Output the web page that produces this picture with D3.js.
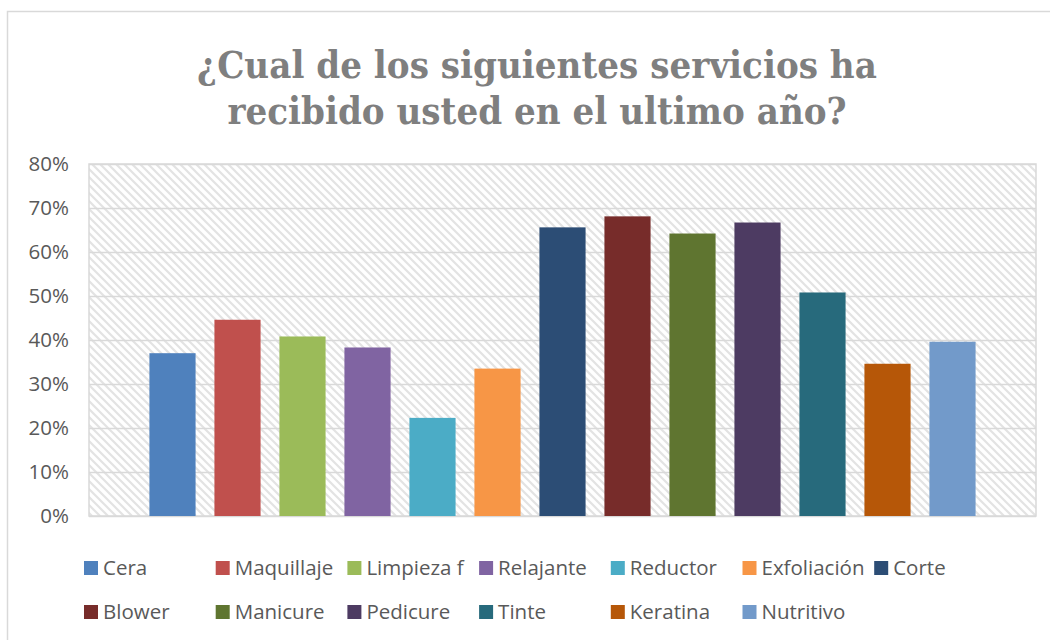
<!DOCTYPE html>
<html>
<head>
<meta charset="utf-8">
<script src="https://cdn.jsdelivr.net/npm/d3@7"></script>
<style>
  body { margin: 0; background: #fff; }
  svg { display: block; }
</style>
</head>
<body>
<div id="chart"></div>
<script>
// data
const categories = ["Cera", "Maquillaje", "Limpieza f", "Relajante", "Reductor", "Exfoliación", "Corte",
    "Blower", "Manicure", "Pedicure", "Tinte", "Keratina", "Nutritivo"];
const values = [0.37, 0.446, 0.408, 0.383, 0.223, 0.335, 0.656, 0.681, 0.642, 0.667, 0.508, 0.346, 0.396];
const colors = ["#4f81bd", "#c0504d", "#9bbb59", "#8064a2", "#4bacc6", "#f79646", "#2c4d75",
    "#772c2a", "#5f7530", "#4d3b62", "#276a7c", "#b65708", "#729aca"];
const yTicks = [0, 0.1, 0.2, 0.3, 0.4, 0.5, 0.6, 0.7, 0.8];
const titleLines = ["¿Cual de los siguientes servicios ha", "recibido usted en el ultimo año?"];

const W = 1050, H = 640;
const plot = { left: 89, right: 1036, top: 164, bottom: 516 };

const svg = d3.select("#chart")
    .append("svg")
    .attr("width", W)
    .attr("height", H);

// hatch pattern for the plot background
const defs = svg.append("defs");
const pat = defs.append("pattern")
    .attr("id", "hatch")
    .attr("patternUnits", "userSpaceOnUse")
    .attr("width", 8)
    .attr("height", 8);
pat.append("rect").attr("width", 8).attr("height", 8).attr("fill", "#fff");
pat.append("path")
    .attr("d", "M-2,-2 L10,10 M-2,6 L2,10 M6,-2 L10,2")
    .attr("stroke", "#e3e3e3")
    .attr("stroke-width", 2.2);

// outer chart border
svg.append("rect")
    .attr("x", 7.5).attr("y", 11.5)
    .attr("width", 1100).attr("height", 700)
    .attr("fill", "none")
    .attr("stroke", "#d9d9d9")
    .attr("stroke-width", 1.5);

// title
const title = svg.append("g");
titleLines.forEach(function (t, i) {
    title.append("text")
        .attr("x", 537)
        .attr("y", 78 + i * 46)
        .attr("text-anchor", "middle")
        .attr("font-family", "'DejaVu Serif Condensed', 'DejaVu Serif', serif")
        .attr("font-weight", "bold")
        .attr("font-size", 40)
        .attr("fill", "#7f7f7f")
        .text(t);
});
// fit first line to ~680px like the original
const first = title.select("text").node();
const fs = 40 * 680 / first.getComputedTextLength();
title.selectAll("text").attr("font-size", fs);

// scales
const y = d3.scaleLinear()
    .domain([0, 0.8])
    .range([plot.bottom, plot.top]);

const mid = (plot.left + plot.right) / 2;
const step = 65;
const x = d3.scaleBand()
    .domain(categories)
    .range([mid - step * categories.length / 2, mid + step * categories.length / 2])
    .paddingInner(0.29)
    .paddingOuter(0.145);

// plot background
svg.append("rect")
    .attr("x", plot.left).attr("y", plot.top)
    .attr("width", plot.right - plot.left)
    .attr("height", plot.bottom - plot.top)
    .attr("fill", "url(#hatch)")
    .attr("stroke", "#d9d9d9")
    .attr("stroke-width", 1.5);

// gridlines + y labels
const yAxis = svg.append("g")
    .attr("transform", `translate(${plot.left},0)`)
    .call(d3.axisLeft(y).tickValues(yTicks).tickFormat(d3.format(".0%"))
        .tickSize(-(plot.right - plot.left)).tickPadding(20));
yAxis.select(".domain").remove();
yAxis.selectAll("line").attr("stroke", "#d9d9d9").attr("stroke-width", 1.5);
yAxis.selectAll("text")
    .attr("fill", "#595959")
    .attr("font-family", "'Open Sans', sans-serif")
    .attr("font-size", 20.5);

// bars
svg.selectAll("rect.bar")
    .data(categories)
    .enter()
    .append("rect")
    .attr("class", "bar")
    .attr("x", d => x(d))
    .attr("y", (d, i) => y(values[i]))
    .attr("width", x.bandwidth())
    .attr("height", (d, i) => y(0) - y(values[i]))
    .attr("fill", (d, i) => colors[i]);

// legend, 7 per row
const legend = svg.append("g");
const leg = legend.selectAll("g")
    .data(categories)
    .enter()
    .append("g")
    .attr("transform", (d, i) => `translate(${84 + (i % 7) * 131.7},${568 + Math.floor(i / 7) * 44})`);
leg.append("rect")
    .attr("x", 0).attr("y", -7)
    .attr("width", 14).attr("height", 14)
    .attr("fill", (d, i) => colors[i]);
leg.append("text")
    .attr("x", 19)
    .attr("y", 0)
    .attr("dy", "0.35em")
    .attr("fill", "#595959")
    .attr("font-family", "'Open Sans', sans-serif")
    .attr("font-size", 20.5)
    .text(d => d);
</script>
</body>
</html>
